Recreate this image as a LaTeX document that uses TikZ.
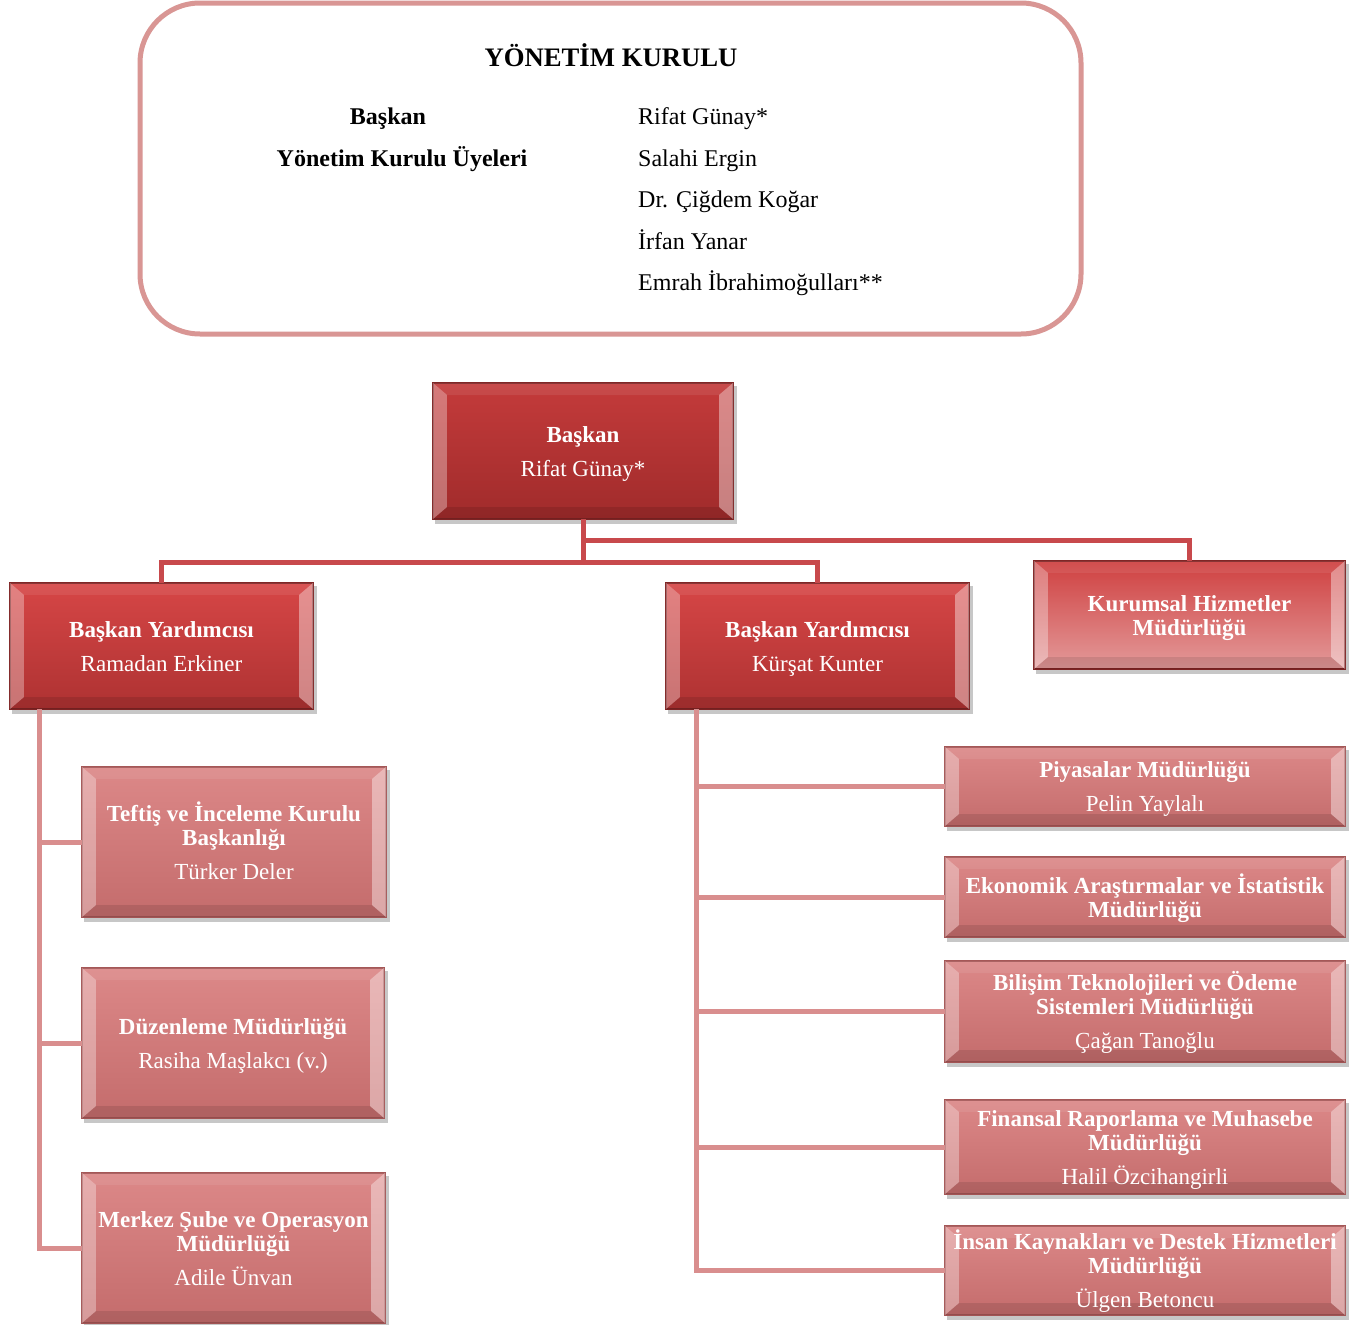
\documentclass[tikz,border=0pt]{standalone}
\usepackage{fontspec}
\setmainfont{Liberation Serif}
\usetikzlibrary{calc,fit}
\definecolor{frameC}{HTML}{D99694}
\definecolor{lineA}{HTML}{C8494C}
\definecolor{lineB}{HTML}{D98E8E}
\definecolor{r0top}{HTML}{C43B3B}
\definecolor{r0bot}{HTML}{A02B2B}
\definecolor{r1top}{HTML}{D64646}
\definecolor{r1bot}{HTML}{AE3232}
\definecolor{khtop}{HTML}{CF4040}
\definecolor{khbot}{HTML}{E39A9A}
\definecolor{chtop}{HTML}{DC8888}
\definecolor{chbot}{HTML}{C46C6C}
\definecolor{edgeR}{HTML}{7F2424}
\definecolor{edgeP}{HTML}{A45656}
\newcommand\bsize{\fontsize{23}{24}\selectfont}
\newcommand\tsize{\fontsize{24}{26}\selectfont}
\newcommand\orgbox[5]{%
  \fill[black,opacity=.22] ($(#2)+(2,3)$) rectangle ($(#3)+(4,5)$);
  \path[#4] (#2) rectangle (#3);
  \node[inner sep=0pt,fit={(#2)(#3)}] (#1) {};
  \fill[white,opacity=.32] (#1.north west) -- (#1.south west) -- ([shift={(14,-12)}]#1.south west) -- ([shift={(14,12)}]#1.north west) -- cycle;
  \fill[white,opacity=.40] (#1.north east) -- (#1.south east) -- ([shift={(-14,-12)}]#1.south east) -- ([shift={(-14,12)}]#1.north east) -- cycle;
  \fill[white,opacity=.08] (#1.north west) -- (#1.north east) -- ([shift={(-14,12)}]#1.north east) -- ([shift={(14,12)}]#1.north west) -- cycle;
  \fill[black,opacity=.10] (#1.south west) -- (#1.south east) -- ([shift={(-14,-12)}]#1.south east) -- ([shift={(14,-12)}]#1.south west) -- cycle;
  \node[boxtext] (#1-t) at (#1.center) {\rule{0pt}{22pt}#5\rule[-6pt]{0pt}{6pt}};
}
\begin{document}
\begin{tikzpicture}[x=1pt,y=-1pt,
  boxtext/.style={align=center,text=white,font=\bsize,inner sep=0pt},
  b0/.style={top color=r0top,bottom color=r0bot,draw=edgeR,line width=1.2pt},
  b1/.style={top color=r1top,bottom color=r1bot,draw=edgeR,line width=1.2pt},
  bk/.style={top color=khtop,bottom color=khbot,draw=edgeR,line width=1.2pt},
  bc/.style={top color=chtop,bottom color=chbot,draw=edgeP,line width=1.2pt},
  conA/.style={draw=lineA,line width=5pt},
  conB/.style={draw=lineB,line width=5pt},
  lbl/.style={font=\tsize,inner sep=0pt,anchor=base},
  lblw/.style={font=\tsize,inner sep=0pt,anchor=base west}]
\useasboundingbox (0,0) rectangle (1368,1325);
\fill[white] (0,0) rectangle (1368,1325);

% Board frame
\node[draw=frameC,line width=5pt,rounded corners=60pt,inner sep=0pt,fit={(140,3)(1081,334)}] (yk) {};
\node[lbl,font=\bfseries\fontsize{26.7}{28}\selectfont] (ttl) at (611,66) {YÖNETİM KURULU};
\node[lbl,font=\bfseries\tsize] (l1) at (388,124) {Başkan};
\node[lbl,font=\bfseries\tsize] (l2) at (402,166) {Yönetim Kurulu Üyeleri};
\node[lblw] (n1) at (638,124) {Rifat Günay*};
\node[lblw] (n2) at (638,166) {Salahi Ergin};
\node[lblw] (n3) at (638,207) {Dr. Çiğdem Koğar};
\node[lblw] (n4) at (638,249) {İrfan Yanar};
\node[lblw] (n5) at (638,290) {Emrah İbrahimoğulları**};

% Boxes
\orgbox{b0}{433,383}{733,519}{b0}{\textbf{Başkan}\\[10pt]Rifat Günay*}
\orgbox{vp1}{10,583}{313,709}{b1}{\textbf{Başkan Yardımcısı}\\[10pt]Ramadan Erkiner}
\orgbox{vp2}{666,583}{969,709}{b1}{\textbf{Başkan Yardımcısı}\\[10pt]Kürşat Kunter}
\orgbox{kh}{1034,561}{1345,669}{bk}{\textbf{Kurumsal Hizmetler}\\\textbf{Müdürlüğü}}
\orgbox{t}{82,767}{386,917}{bc}{\textbf{Teftiş ve İnceleme Kurulu}\\\textbf{Başkanlığı}\\[10pt]Türker Deler}
\orgbox{d}{82,968}{384,1118}{bc}{\textbf{Düzenleme Müdürlüğü}\\[10pt]Rasiha Maşlakcı (v.)}
\orgbox{m}{82,1173}{385,1323}{bc}{\textbf{Merkez Şube ve Operasyon}\\\textbf{Müdürlüğü}\\[10pt]Adile Ünvan}
\orgbox{p}{945,747}{1345,826}{bc}{\textbf{Piyasalar Müdürlüğü}\\[10pt]Pelin Yaylalı}
\orgbox{e}{945,857}{1345,937}{bc}{\textbf{Ekonomik Araştırmalar ve İstatistik}\\\textbf{Müdürlüğü}}
\orgbox{bt}{945,961}{1345,1062}{bc}{\textbf{Bilişim Teknolojileri ve Ödeme}\\\textbf{Sistemleri Müdürlüğü}\\[10pt]Çağan Tanoğlu}
\orgbox{f}{945,1100}{1345,1194}{bc}{\textbf{Finansal Raporlama ve Muhasebe}\\\textbf{Müdürlüğü}\\[10pt]Halil Özcihangirli}
\orgbox{ik}{945,1226}{1345,1315}{bc}{\textbf{İnsan Kaynakları ve Destek Hizmetleri}\\\textbf{Müdürlüğü}\\[10pt]Ülgen Betoncu}

% Connectors
\coordinate (j1) at ([shift={(0,43)}]b0.south);
\coordinate (j2) at ([shift={(0,21)}]b0.south);
\coordinate (ls) at ([shift={(30,0)}]vp1.south west);
\coordinate (rs) at ([shift={(31,0)}]vp2.south west);

\draw[conA] (b0.south) -- (j1) -| (vp1.north);
\draw[conA] (j1) -| (vp2.north);
\draw[conA] (j2) -| (kh.north);

\draw[conB] (ls) |- (t.west);
\draw[conB] (ls) |- (d.west);
\draw[conB] (ls) |- (m.west);
\draw[conB] (rs) |- (p.west);
\draw[conB] (rs) |- (e.west);
\draw[conB] (rs) |- (bt.west);
\draw[conB] (rs) |- (f.west);
\draw[conB] (rs) |- (ik.west);
\end{tikzpicture}
\end{document}
